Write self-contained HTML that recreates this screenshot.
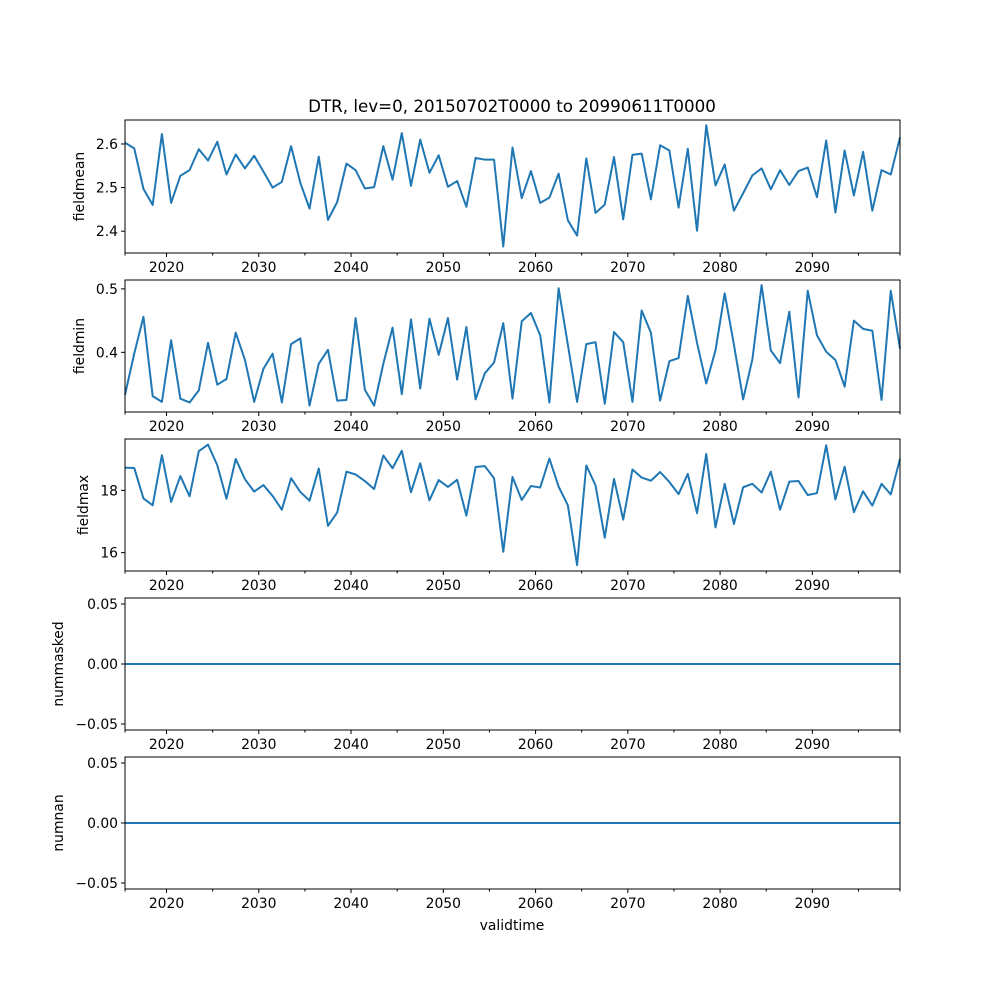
<!DOCTYPE html>
<html><head><meta charset="utf-8"><style>
html,body{margin:0;padding:0;background:#fff;}
svg text{font-family:"DejaVu Sans","Liberation Sans",sans-serif;fill:#000;}
</style></head><body>
<svg id="chart" width="1000" height="1000" viewBox="0 0 1000 1000" xmlns="http://www.w3.org/2000/svg">
<rect x="0" y="0" width="1000" height="1000" fill="#fff"/>
<text x="512" y="112" font-size="16.7" text-anchor="middle">DTR, lev=0, 20150702T0000 to 20990611T0000</text>
<text x="512" y="930" font-size="13.9" text-anchor="middle">validtime</text>
</svg>
<script>
const startYear = 2015.5;
const nPoints = 85;
const xTickYears = [2020, 2030, 2040, 2050, 2060, 2070, 2080, 2090];
const xMinorYears = [2025, 2035, 2045, 2055, 2065, 2075, 2085, 2095];
const fieldmean = [2.603,2.590,2.497,2.460,2.623,2.465,2.527,2.540,2.588,2.562,2.605,2.530,2.576,2.544,2.573,2.537,2.500,2.513,2.595,2.511,2.452,2.571,2.426,2.467,2.555,2.540,2.498,2.501,2.595,2.518,2.625,2.504,2.610,2.534,2.574,2.502,2.515,2.456,2.568,2.564,2.564,2.365,2.592,2.476,2.538,2.465,2.477,2.532,2.425,2.390,2.567,2.442,2.461,2.570,2.427,2.575,2.578,2.473,2.597,2.585,2.454,2.589,2.401,2.643,2.505,2.553,2.447,2.487,2.528,2.544,2.496,2.540,2.506,2.538,2.546,2.478,2.608,2.443,2.585,2.482,2.582,2.447,2.540,2.530,2.615];
const fieldmin = [0.333,0.398,0.456,0.331,0.322,0.419,0.327,0.321,0.340,0.415,0.349,0.358,0.431,0.388,0.322,0.374,0.398,0.321,0.413,0.422,0.316,0.382,0.404,0.324,0.325,0.454,0.341,0.316,0.382,0.439,0.334,0.452,0.343,0.453,0.396,0.454,0.357,0.440,0.326,0.367,0.384,0.446,0.327,0.449,0.462,0.427,0.321,0.501,0.412,0.322,0.413,0.416,0.319,0.432,0.416,0.322,0.466,0.431,0.324,0.386,0.391,0.489,0.415,0.351,0.403,0.493,0.412,0.326,0.389,0.506,0.403,0.383,0.464,0.329,0.497,0.427,0.401,0.388,0.346,0.450,0.437,0.434,0.325,0.497,0.406];
const fieldmax = [18.73,18.72,17.74,17.52,19.13,17.63,18.46,17.81,19.26,19.47,18.81,17.73,19.01,18.36,17.96,18.17,17.82,17.38,18.39,17.95,17.67,18.70,16.86,17.29,18.60,18.51,18.30,18.04,19.12,18.71,19.27,17.94,18.87,17.68,18.33,18.11,18.34,17.19,18.75,18.78,18.39,16.03,18.43,17.69,18.14,18.09,19.02,18.12,17.52,15.60,18.80,18.16,16.48,18.37,17.06,18.67,18.41,18.31,18.59,18.27,17.88,18.53,17.27,19.17,16.81,18.21,16.92,18.10,18.21,17.93,18.60,17.38,18.28,18.30,17.85,17.91,19.45,17.71,18.76,17.30,17.97,17.51,18.21,17.87,19.01];
const nummasked = new Array(85).fill(0);
const numnan = new Array(85).fill(0);
const meanTicks = [2.4, 2.5, 2.6];
const minTicks = [0.4, 0.5];
const maxTicks = [16, 18];
const zeroTicks = [-0.05, 0.00, 0.05];

const svg = document.getElementById('chart');
const NS = 'http://www.w3.org/2000/svg';
const L = 125, R = 900;
const lastYear = startYear + nPoints - 1;
function xs(y){ return L + (y - startYear) / (lastYear - startYear) * (R - L); }
function mk(tag, attrs){ const e = document.createElementNS(NS, tag); for (const k in attrs) e.setAttribute(k, attrs[k]); svg.appendChild(e); return e; }

const panels = [
  {name:'fieldmean', data:fieldmean, top:120, bot:253, lo:2.350, hi:2.655, ticks:meanTicks, fmt:v=>v.toFixed(1), lx:84},
  {name:'fieldmin', data:fieldmin, top:280, bot:412, lo:0.306, hi:0.514, ticks:minTicks, fmt:v=>v.toFixed(1), lx:84},
  {name:'fieldmax', data:fieldmax, top:439, bot:571, lo:15.41, hi:19.65, ticks:maxTicks, fmt:v=>String(v), lx:88},
  {name:'nummasked', data:nummasked, top:598, bot:730, lo:-0.055, hi:0.055, ticks:zeroTicks, fmt:v=>(v<0?'\u22120.05':v.toFixed(2)), lx:63},
  {name:'numnan', data:numnan, top:757, bot:889, lo:-0.055, hi:0.055, ticks:zeroTicks, fmt:v=>(v<0?'\u22120.05':v.toFixed(2)), lx:63}
];

panels.forEach(p => {
  const ys = v => p.bot - (v - p.lo) / (p.hi - p.lo) * (p.bot - p.top);
  let d = '';
  p.data.forEach((v, i) => { d += (i ? 'L' : 'M') + xs(startYear + i).toFixed(2) + ',' + ys(v).toFixed(2); });
  const line = mk('path', {d:d, fill:'none', stroke:'#1f77b4', 'stroke-width':2, 'stroke-linejoin':'round'});
  
  
  const frame = mk('rect', {x:L, y:p.top, width:R-L, height:p.bot-p.top, fill:'none', stroke:'#000', 'stroke-width':1});
  
  
  p.ticks.forEach(t => {
    const y = ys(t);
    mk('line', {x1:L-4, x2:L, y1:y, y2:y, stroke:'#000', 'stroke-width':1});
    const tx = mk('text', {x:L-7, y:y+5, 'font-size':13.9, 'text-anchor':'end'});
    tx.textContent = p.fmt(t);
    
    
  });
  xTickYears.forEach(yr => {
    const x = xs(yr);
    mk('line', {x1:x, x2:x, y1:p.bot, y2:p.bot+4, stroke:'#000', 'stroke-width':1});
    const tx = mk('text', {x:x, y:p.bot+19, 'font-size':13.9, 'text-anchor':'middle'});
    tx.textContent = String(yr);
    
    
  });
  xMinorYears.concat([startYear, lastYear]).forEach(yr => {
    const x = xs(yr);
    mk('line', {x1:x, x2:x, y1:p.bot, y2:p.bot+2.5, stroke:'#000', 'stroke-width':1});
  });
  const cy = (p.top + p.bot) / 2;
  const lab = mk('text', {x:p.lx, y:cy, 'font-size':13.9, 'text-anchor':'middle', transform:'rotate(-90 ' + p.lx + ' ' + cy + ')'});
  lab.textContent = p.name;
  
  
});
</script>
</body></html>
